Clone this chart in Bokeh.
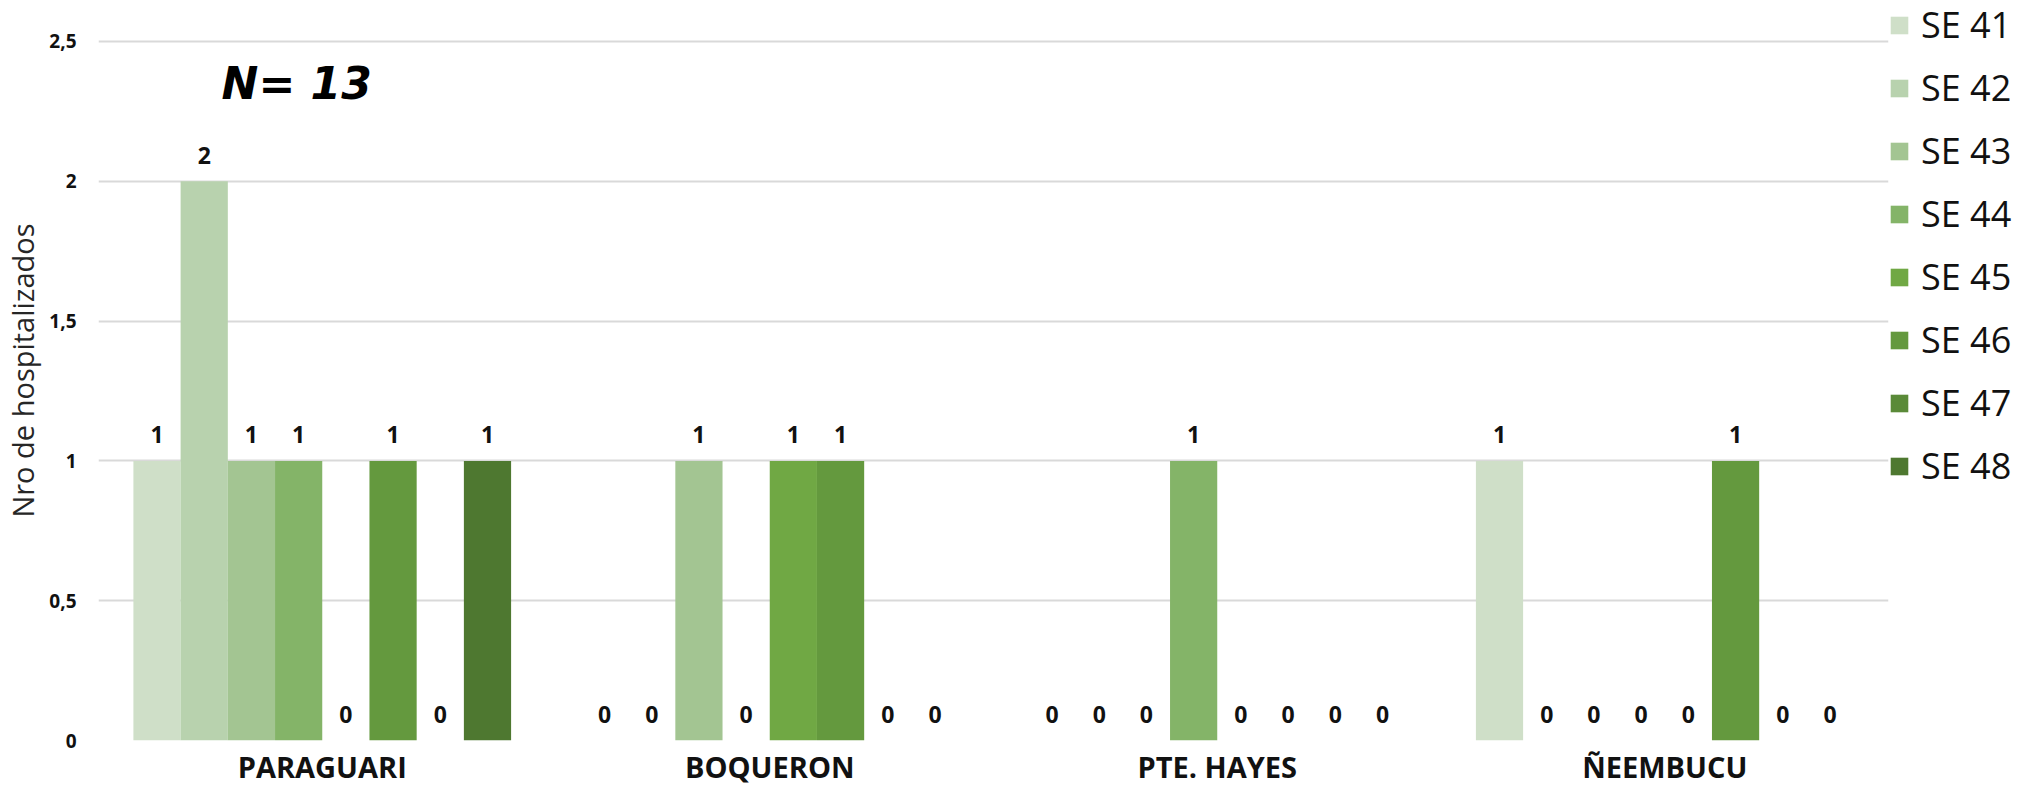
from bokeh.plotting import figure
from bokeh.models import (ColumnDataSource, Legend, LegendItem, Label, FixedTicker,
                          CustomJSTickFormatter, Range1d)
from bokeh.transform import dodge
from bokeh.core.properties import value
from bokeh.embed import file_html
from bokeh.resources import INLINE

# ---------------- data ----------------
departments = ["PARAGUARI", "BOQUERON", "PTE. HAYES", "ÑEEMBUCU"]
weeks = ["SE 41", "SE 42", "SE 43", "SE 44", "SE 45", "SE 46", "SE 47", "SE 48"]
se41 = [1, 0, 0, 1]
se42 = [2, 0, 0, 0]
se43 = [1, 1, 0, 0]
se44 = [1, 0, 1, 0]
se45 = [0, 1, 0, 0]
se46 = [1, 1, 0, 1]
se47 = [0, 0, 0, 0]
se48 = [1, 0, 0, 0]
series = [se41, se42, se43, se44, se45, se46, se47, se48]
colors = ["#CFDFC8", "#B8D2AE", "#A3C592", "#84B468", "#70A844", "#64993E", "#5A8A38", "#4E7830"]
y_ticks = [0, 0.5, 1, 1.5, 2, 2.5]
y_label = "Nro de hospitalizados"
n_total = sum(sum(s) for s in series)

FONT = "Open Sans"
BAR_W = 0.1055

p = figure(x_range=departments, y_range=Range1d(0, 2.6466),
           frame_width=1790, frame_height=740,
           output_backend="svg", toolbar_location=None,
           min_border_left=91, min_border_right=0, min_border_top=0, min_border_bottom=40)
p.outline_line_color = None
p.background_fill_color = "white"
p.border_fill_color = "white"

items = []
n = len(weeks)
for i, (wk, vals, col) in enumerate(zip(weeks, series, colors)):
    src = ColumnDataSource(dict(dep=departments, val=vals, lab=[str(v) for v in vals]))
    off = (i - (n - 1) / 2) * BAR_W
    r = p.vbar(x=dodge("dep", off, range=p.x_range), top="val", width=BAR_W, source=src,
               fill_color=col, line_color=None)
    p.text(x=dodge("dep", off, range=p.x_range), y="val", text="lab", source=src,
           text_align="center", text_baseline="middle", y_offset=-26,
           text_font=value(FONT), text_font_style="bold", text_font_size="23px",
           text_color="#111111")
    items.append(LegendItem(label=wk, renderers=[r]))

legend = Legend(items=items, location="top_left", orientation="vertical",
                glyph_width=22, glyph_height=22, label_height=40, spacing=14,
                label_standoff=11, padding=0, margin=0,
                border_line_color=None, background_fill_alpha=0,
                label_text_font=FONT, label_text_font_size="36px", label_text_color="#111111")
p.add_layout(legend, "right")

p.add_layout(Label(x=0.275, y=2.35, text=f"N= {n_total}", text_font="DejaVu Sans",
                   text_font_style="bold italic", text_font_size="44px",
                   text_baseline="middle", text_align="left", text_color="#000000"))

# axes
p.xgrid.grid_line_color = None
p.ygrid.grid_line_color = "#D9D9D9"
p.ygrid.grid_line_width = 2
p.yaxis.ticker = FixedTicker(ticks=y_ticks)
p.yaxis.formatter = CustomJSTickFormatter(code="return tick.toString().replace('.', ',')")
for ax in (p.xaxis[0], p.yaxis[0]):
    ax.axis_line_color = None
    ax.major_tick_line_color = None
    ax.minor_tick_line_color = None
    ax.major_tick_out = 0
    ax.major_tick_in = 0
    ax.minor_tick_out = 0
    ax.minor_tick_in = 0
    ax.major_label_text_font = FONT
    ax.major_label_text_font_style = "bold"
    ax.major_label_text_color = "#111111"
p.yaxis.major_label_text_font_size = "19px"
p.yaxis.major_label_standoff = 22
p.yaxis.axis_label = y_label
p.yaxis.axis_label_text_font = FONT
p.yaxis.axis_label_text_font_style = "normal"
p.yaxis.axis_label_text_font_size = "29px"
p.yaxis.axis_label_text_color = "#262626"
p.yaxis.axis_label_standoff = 4
p.xaxis.major_label_text_font_size = "29px"
p.xaxis.major_label_standoff = 6

open("out.html", "w").write(file_html(p, INLINE))
